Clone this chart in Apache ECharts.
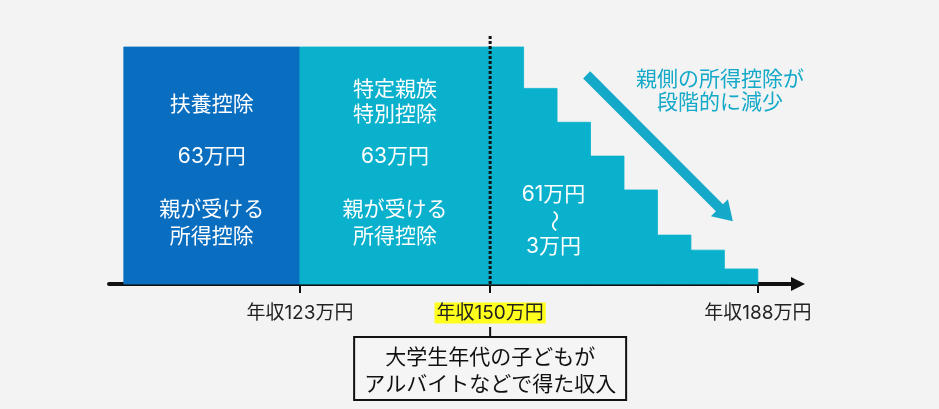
<!DOCTYPE html>
<html><head><meta charset="utf-8">
<script src="https://cdn.jsdelivr.net/npm/echarts@6/dist/echarts.min.js"></script>
<style>html,body{margin:0;padding:0;background:#f3f3f3}#c{width:939px;height:409px}</style>
</head><body><div id="c"></div>
<script>
// ---- data (万円) ----
const segStart = [98, 123, 150, 154.75, 159.5, 164.25, 169, 173.75, 178.5, 183.25];
const segEnd   = [123, 150, 154.75, 159.5, 164.25, 169, 173.75, 178.5, 183.25, 188];
const segValue = [63, 63, 63, 52, 43, 34, 25, 13, 9, 4];
const segKind  = [0, 1, 1, 1, 1, 1, 1, 1, 1, 1];
const tickValues = [123, 150, 188];
const tickLabels = ['年収123万円', '年収150万円', '年収188万円'];
const thresholdIncome = 150;
const thresholdLine = [[150, 0], [150, 66]];
const arrowFrom = [163.7, 55.6];
const arrowTo = [183.5, 18.5];

const FONT = 'Inter, "Noto Sans CJK JP", "Noto Sans", sans-serif';
const COLORS = ['#0a6ec0', '#0ab1cd'];
const ACC = '#14a9c9';

const chart = echarts.init(document.getElementById('c'), null, {renderer: 'canvas'});
chart.setOption({
  animation: false,
  backgroundColor: '#f3f3f3',
  grid: {left: 109, right: 141, top: 20.7, bottom: 125},
  xAxis: {
    type: 'value', min: 95.9, max: 193.7,
    axisLine: {show: true, lineStyle: {color: '#111', width: 4}, symbol: ['none', 'triangle'], symbolSize: [14, 14]},
    axisTick: {show: true, customValues: tickValues, length: 9, lineStyle: {color: '#111', width: 2}},
    axisLabel: {
      show: true, customValues: tickValues, margin: 19,
      fontFamily: FONT, fontSize: 19, color: '#222', lineHeight: 20,
      formatter: function (v) {
        const i = tickValues.indexOf(v);
        const t = i >= 0 ? tickLabels[i] : '';
        return v === thresholdIncome ? '{hl|' + t + '}' : t;
      },
      rich: {hl: {backgroundColor: '#ffff1e', padding: [1, 2, 1, 2], fontFamily: FONT, fontSize: 19, color: '#222', lineHeight: 20}}
    },
    splitLine: {show: false}
  },
  yAxis: {type: 'value', min: 0, max: 70, show: false, splitLine: {show: false}},
  series: [
    {
      type: 'custom', z: 2,
      data: segStart.map((s, i) => [s, segEnd[i], segValue[i], segKind[i]]),
      renderItem: function (params, api) {
        const p0 = api.coord([api.value(0), api.value(2)]);
        const p1 = api.coord([api.value(1), 0]);
        const col = COLORS[api.value(3)];
        return {type: 'rect', shape: {x: p0[0], y: p0[1], width: p1[0] - p0[0], height: p1[1] - p0[1]},
          style: {fill: col, stroke: col, lineWidth: 0.8}};
      }
    },
    {
      type: 'line', data: thresholdLine, symbol: 'none', z: 5, silent: true,
      lineStyle: {color: '#111', width: 3, type: [3, 2]},
      markLine: {
        silent: true, symbol: ['none', 'triangle'], symbolSize: [24, 19],
        label: {show: false},
        lineStyle: {color: ACC, width: 10, type: 'solid', opacity: 1},
        data: [[{coord: arrowFrom}, {coord: arrowTo}]]
      }
    }
  ]
});

const px = v => chart.convertToPixel({xAxisIndex: 0, yAxisIndex: 0}, v);
const midX = i => (px([segStart[i], 0])[0] + px([segEnd[i], 0])[0]) / 2;
const blueX = midX(0), cyanX = midX(1);
const x150 = px([thresholdIncome, 0])[0];
const stepX = px([159, 0])[0];

function T(x, y, text, size, fill, lh, extra) {
  return Object.assign({
    type: 'text', x: x, y: y, z: 100,
    style: {text: text, fill: fill, fontFamily: FONT, fontSize: size, lineHeight: lh || size * 1.3,
      align: 'center', verticalAlign: 'middle', textAlign: 'center', textVerticalAlign: 'middle'}
  }, extra || {});
}
const W = '#ffffff';
chart.setOption({
  graphic: [
    T(blueX, 105, '扶養控除', 21, W),
    T(blueX, 157, '63万円', 21, W),
    T(blueX, 223.5, '親が受ける\n所得控除', 21, W, 27),
    T(cyanX, 102.5, '特定親族\n特別控除', 21, W, 25),
    T(cyanX, 157, '63万円', 21, W),
    T(cyanX, 223.5, '親が受ける\n所得控除', 21, W, 27),
    T(stepX, 195, '61万円', 21, W),
    T(stepX, 221, '～', 22, W, 22, {rotation: -Math.PI / 2}),
    T(stepX, 247, '3万円', 21, W),
    T(720, 91.5, '親側の所得控除が\n段階的に減少', 21, ACC, 23),
    {type: 'line', z: 100, shape: {x1: x150, y1: 327, x2: x150, y2: 337}, style: {stroke: '#111', lineWidth: 2}},
    {type: 'rect', z: 100, shape: {x: x150 - 136, y: 337, width: 272, height: 63}, style: {fill: '#f5f5f5', stroke: '#111', lineWidth: 2}},
    T(x150, 371.5, '大学生年代の子どもが\nアルバイトなどで得た収入', 21, '#111', 27, {z: 101})
  ]
});
</script>
</body></html>
